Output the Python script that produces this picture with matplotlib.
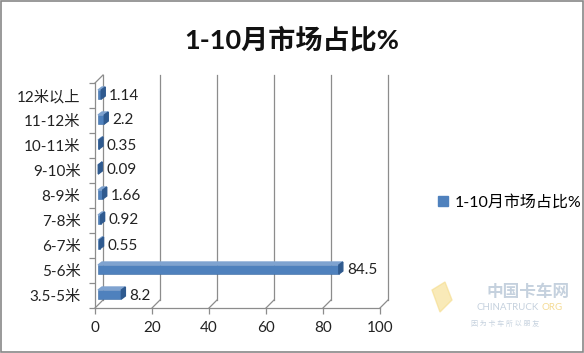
import matplotlib.pyplot as plt
from matplotlib.patches import Polygon, Rectangle, Patch

plt.rcParams['font.family'] = ['Lato', 'Noto Sans CJK SC', 'DejaVu Sans']

categories = ['3.5-5米', '5-6米', '6-7米', '7-8米', '8-9米', '9-10米', '10-11米', '11-12米', '12米以上']
share = [8.2, 84.5, 0.55, 0.92, 1.66, 0.09, 0.35, 2.2, 1.14]
value_labels = ['8.2', '84.5', '0.55', '0.92', '1.66', '0.09', '0.35', '2.2', '1.14']
xticks = [0, 20, 40, 60, 80, 100]
series_name = '1-10月市场占比%'

W, H = 584, 353
fig = plt.figure(figsize=(W / 100, H / 100), dpi=100)

# front plane of the 3d box (pixels)
x0, x1, ybot, ytop = 95, 380, 308, 83
ax = fig.add_axes([x0 / W, 1 - ybot / H, (x1 - x0) / W, (ybot - ytop) / H])
ax.set_xlim(0, 100)
ax.set_ylim(-0.5, len(categories) - 0.5)
ax.patch.set_alpha(0)

# data units per pixel
ux = 100 / (x1 - x0)
uy = len(categories) / (ybot - ytop)

grid_c = '#8c8c8c'
# back wall offset
bdx, bdy = 8 * ux, 8 * uy
yb, yt = -0.5, len(categories) - 0.5
for v in xticks:
    ax.plot([v + bdx, v + bdx], [yb + bdy, yt + bdy], color=grid_c, lw=0.9, clip_on=False, zorder=1)
    ax.plot([v, v + bdx], [yb, yb + bdy], color=grid_c, lw=0.9, clip_on=False, zorder=1)
ax.plot([0, bdx], [yt, yt + bdy], color=grid_c, lw=0.9, clip_on=False, zorder=1)

# bars with a little depth
front = '#4f81bd'
side = '#2f5a8f'
topc = '#7fa3d0'
ox, oy = 3 * ux, 1 * uy
ddx, ddy = 4 * ux, 3 * uy
bh = 9 * uy
ypos = list(range(len(categories)))
ax.barh([y + oy for y in ypos], share, left=ox, height=bh, color=front,
        edgecolor='#3a6aa3', linewidth=0.4, zorder=3, clip_on=False)
for y, v in zip(ypos, share):
    b = y + oy - bh / 2
    t = y + oy + bh / 2
    r = ox + v
    ax.add_patch(Polygon([(ox, t), (ox + ddx, t + ddy), (r + ddx, t + ddy), (r, t)],
                         closed=True, color=topc, zorder=3, clip_on=False))
    ax.add_patch(Polygon([(r, b), (r + ddx, b + ddy), (r + ddx, t + ddy), (r, t)],
                         closed=True, color=side, zorder=3, clip_on=False))

for y, v, lab in zip(ypos, share, value_labels):
    ax.text(v + 11 * ux, y, lab, va='center', ha='left', fontsize=11, color='#222222')

# axes
for s in ['top', 'right']:
    ax.spines[s].set_visible(False)
for s in ['left', 'bottom']:
    ax.spines[s].set_color(grid_c)
    ax.spines[s].set_linewidth(0.9)
ax.set_xticks(xticks)
ax.set_yticks(ypos)
ax.set_yticklabels(categories)
ax.set_yticks([i - 0.5 for i in range(len(categories) + 1)], minor=True)
ax.tick_params(axis='y', which='major', length=0, pad=10.5, labelsize=11, labelcolor='#222222')
ax.tick_params(axis='y', which='minor', length=4, color=grid_c, width=0.9)
ax.tick_params(axis='x', length=4, color=grid_c, width=0.9, pad=5, labelsize=11, labelcolor='#222222')

fig.text(0.5, 1 - 39 / H, series_name, ha='center', va='center', fontsize=19.5, fontweight='bold', color='#111111')

fig.legend(handles=[Patch(color=front, label=series_name)], loc='center left',
           bbox_to_anchor=(424 / W, 1 - 202 / H), frameon=False, fontsize=11.5,
           handlelength=0.6, handleheight=0.6, handletextpad=0.4)

# faint watermark
fig.text(528 / W, 1 - 292 / H, '中国卡车网', ha='center', va='center', fontsize=12,
         color='#9fb3c8', alpha=0.6, fontweight='bold')
fig.text(508 / W, 1 - 307 / H, 'CHINATRUCK', ha='center', va='center', fontsize=7, color='#9fb3c8', alpha=0.6)
fig.text(552 / W, 1 - 307 / H, 'ORG', ha='center', va='center', fontsize=7, color='#f2d27a', alpha=0.8)
fig.text(505 / W, 1 - 323 / H, '因 为 卡 车 所 以 朋 友', ha='center', va='center', fontsize=5, color='#9fb3c8', alpha=0.6)
fig.add_artist(Polygon([(432 / W, 1 - 290 / H), (445 / W, 1 - 282 / H), (452 / W, 1 - 300 / H), (440 / W, 1 - 312 / H)],
                       closed=True, transform=fig.transFigure, color='#f5dc8a', alpha=0.6))

fig.add_artist(Rectangle((0.001, 0.002), 0.997, 0.995, transform=fig.transFigure, fill=False,
                         edgecolor='#878787', linewidth=1.2))

fig.savefig('out.png', dpi=100)
